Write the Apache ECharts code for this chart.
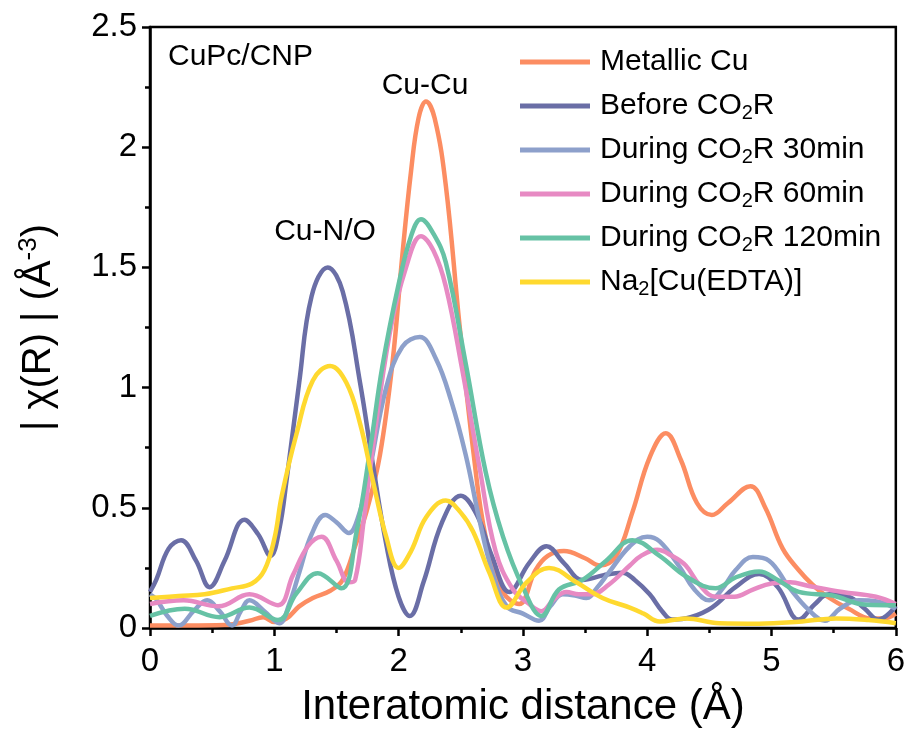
<!DOCTYPE html>
<html>
<head>
<meta charset="utf-8">
<script src="https://cdn.jsdelivr.net/npm/echarts@6/dist/echarts.min.js"></script>
<style>
  html, body { margin: 0; padding: 0; background: #fff; }
  #chart { width: 908px; height: 734px; }
</style>
</head>
<body>
<div id="chart"></div>
<script>
// series names (legend order)
const names = ['Metallic Cu', 'Before CO2R', 'During CO2R 30min', 'During CO2R 60min', 'During CO2R 120min', 'Na2[Cu(EDTA)]'];
const colors = ['#FC8D62', '#6A6EA6', '#8DA0CB', '#E78AC3', '#66C2A5', '#FFD92F'];

// [R (Å), |χ(R)|]
const metallicCu = [[0,0.01],[0.3,0.01],[0.6,0.012],[0.8,0.03],[0.91,0.045],[1.0,0.025],[1.1,0.04],[1.2,0.09],[1.31,0.125],[1.45,0.155],[1.55,0.2],[1.65,0.34],[1.75,0.5],[1.85,0.72],[1.95,1.1],[2.03,1.55],[2.1,1.9],[2.16,2.12],[2.22,2.19],[2.29,2.12],[2.38,1.84],[2.49,1.26],[2.6,0.74],[2.7,0.38],[2.84,0.15],[2.97,0.1],[3.1,0.24],[3.2,0.3],[3.33,0.32],[3.5,0.29],[3.62,0.26],[3.75,0.3],[3.88,0.48],[4.02,0.71],[4.15,0.81],[4.27,0.7],[4.4,0.52],[4.52,0.47],[4.65,0.52],[4.83,0.59],[4.95,0.5],[5.09,0.33],[5.22,0.24],[5.33,0.18],[5.45,0.13],[5.62,0.08],[5.8,0.04],[5.9,0.04],[6,0.06]];
const beforeCO2R = [[0,0.15],[0.05,0.2],[0.15,0.33],[0.25,0.365],[0.37,0.28],[0.48,0.17],[0.6,0.28],[0.76,0.45],[0.87,0.39],[0.97,0.3],[1.04,0.41],[1.1,0.62],[1.2,1.02],[1.3,1.38],[1.43,1.5],[1.55,1.4],[1.69,1.02],[1.79,0.69],[1.9,0.35],[2.0,0.13],[2.09,0.05],[2.2,0.19],[2.35,0.44],[2.5,0.55],[2.63,0.47],[2.75,0.3],[2.89,0.15],[3.05,0.27],[3.19,0.34],[3.33,0.27],[3.48,0.2],[3.65,0.22],[3.8,0.23],[3.9,0.2],[4.02,0.14],[4.12,0.07],[4.2,0.035],[4.35,0.045],[4.52,0.085],[4.71,0.17],[4.9,0.225],[5.05,0.17],[5.22,0.035],[5.35,0.1],[5.46,0.14],[5.62,0.13],[5.75,0.08],[5.86,0.035],[6,0.09]];
const during30 = [[0,0.14],[0.05,0.12],[0.14,0.05],[0.23,0.01],[0.35,0.07],[0.46,0.115],[0.56,0.07],[0.66,0.01],[0.73,0.07],[0.8,0.115],[0.92,0.07],[1.04,0.02],[1.12,0.1],[1.2,0.23],[1.3,0.39],[1.41,0.47],[1.5,0.44],[1.6,0.395],[1.68,0.47],[1.76,0.64],[1.9,1.0],[2.03,1.17],[2.17,1.21],[2.3,1.12],[2.42,0.95],[2.54,0.72],[2.65,0.45],[2.75,0.24],[2.87,0.09],[3.0,0.06],[3.13,0.03],[3.22,0.09],[3.32,0.14],[3.42,0.135],[3.51,0.125],[3.6,0.17],[3.69,0.23],[3.86,0.34],[4.0,0.38],[4.1,0.36],[4.26,0.255],[4.38,0.16],[4.5,0.115],[4.6,0.16],[4.71,0.24],[4.85,0.295],[4.98,0.28],[5.14,0.17],[5.3,0.075],[5.43,0.03],[5.55,0.08],[5.7,0.115],[5.85,0.11],[6,0.08]];
const during60 = [[0,0.1],[0.27,0.115],[0.55,0.09],[0.8,0.14],[1.03,0.095],[1.15,0.22],[1.27,0.34],[1.38,0.38],[1.5,0.28],[1.6,0.19],[1.65,0.2],[1.72,0.45],[1.79,0.74],[1.93,1.23],[2.06,1.5],[2.18,1.63],[2.28,1.57],[2.38,1.42],[2.51,1.08],[2.65,0.67],[2.78,0.32],[2.92,0.16],[3.05,0.1],[3.15,0.07],[3.25,0.12],[3.35,0.15],[3.45,0.14],[3.55,0.14],[3.69,0.18],[3.86,0.26],[3.95,0.3],[4.08,0.325],[4.2,0.3],[4.31,0.26],[4.42,0.18],[4.55,0.13],[4.7,0.13],[4.85,0.16],[5.0,0.185],[5.15,0.19],[5.3,0.175],[5.57,0.15],[5.84,0.13],[6,0.1]];
const during120 = [[0,0.05],[0.28,0.08],[0.56,0.045],[0.8,0.085],[1.03,0.033],[1.18,0.145],[1.35,0.228],[1.54,0.165],[1.66,0.395],[1.77,0.74],[1.87,1.09],[2.0,1.43],[2.1,1.63],[2.18,1.7],[2.28,1.64],[2.38,1.52],[2.54,1.1],[2.7,0.65],[2.84,0.38],[3.0,0.17],[3.15,0.05],[3.29,0.16],[3.48,0.2],[3.67,0.28],[3.88,0.365],[4.1,0.3],[4.31,0.215],[4.55,0.165],[4.71,0.21],[4.9,0.235],[5.05,0.2],[5.22,0.15],[5.49,0.135],[5.76,0.097],[6,0.095]];
const na2CuEDTA = [[0,0.125],[0.23,0.133],[0.44,0.14],[0.66,0.165],[0.82,0.185],[0.92,0.24],[1.0,0.37],[1.06,0.55],[1.18,0.81],[1.31,1.03],[1.45,1.09],[1.58,1.02],[1.69,0.85],[1.79,0.62],[1.9,0.38],[2.0,0.25],[2.1,0.32],[2.22,0.46],[2.38,0.53],[2.5,0.48],[2.6,0.4],[2.73,0.23],[2.87,0.085],[3.03,0.19],[3.21,0.25],[3.43,0.19],[3.64,0.125],[3.86,0.085],[3.97,0.06],[4.1,0.027],[4.31,0.04],[4.58,0.02],[4.9,0.018],[5.22,0.026],[5.52,0.04],[5.78,0.033],[6,0.02]];

const seriesData = [metallicCu, beforeCO2R, during30, during60, during120, na2CuEDTA];

const xTicks = { min: 0, max: 6, interval: 1 };
const yTicks = { min: 0, max: 2.5, interval: 0.5 };

const FONT = '"Liberation Sans", Arial, sans-serif';

const chart = echarts.init(document.getElementById('chart'));

const axisCommon = {
    axisLine: { show: true, onZero: false, lineStyle: { color: '#000', width: 2.5 } },
    axisTick: { show: true, inside: false, length: 8, lineStyle: { color: '#000', width: 2.5 } },
    minorTick: { show: true, splitNumber: 2, length: 5, lineStyle: { color: '#000', width: 2.5 } },
    splitLine: { show: false },
    minorSplitLine: { show: false }
};

chart.setOption({
    animation: false,
    grid: {
        left: 150, right: 11, top: 27, bottom: 106,
        show: true, borderColor: '#000', borderWidth: 2.5
    },
    legend: {
        orient: 'vertical',
        left: 515, top: 40,
        itemWidth: 70, itemHeight: 5, itemGap: 10,
        icon: 'rect',
        data: names,
        formatter: name => name.replace('CO2', 'CO{sub|2}').replace('Na2', 'Na{sub|2}'),
        textStyle: {
            fontFamily: FONT, fontSize: 30, color: '#000', lineHeight: 34,
            padding: [0, 0, 0, 5],
            rich: { sub: { fontFamily: FONT, fontSize: 20, lineHeight: 20, verticalAlign: 'bottom', color: '#000' } }
        }
    },
    xAxis: Object.assign({
        type: 'value',
        min: xTicks.min, max: xTicks.max, interval: xTicks.interval,
        name: 'Interatomic distance (Å)',
        nameLocation: 'middle', nameGap: 58,
        nameTextStyle: { fontFamily: FONT, fontSize: 42, color: '#000' },
        axisLabel: { fontFamily: FONT, fontSize: 33, color: '#000', margin: 17 }
    }, axisCommon),
    yAxis: Object.assign({
        type: 'value',
        min: yTicks.min, max: yTicks.max, interval: yTicks.interval,
        name: '{t|| χ(R) | (Å}{sup|-3}{t|)}',
        nameLocation: 'middle', nameGap: 88, nameRotate: 90,
        nameTextStyle: {
            fontFamily: FONT, fontSize: 40, color: '#000',
            rich: {
                t: { fontFamily: FONT, fontSize: 40, lineHeight: 46, color: '#000' },
                sup: { fontFamily: FONT, fontSize: 26, lineHeight: 26, verticalAlign: 'top', color: '#000' }
            }
        },
        axisLabel: { fontFamily: FONT, fontSize: 33, color: '#000', margin: 13 }
    }, axisCommon),
    graphic: [
        { type: 'text', x: 168, y: 57, style: { text: 'CuPc/CNP', font: '30px ' + FONT, fill: '#000', verticalAlign: 'middle' } },
        { type: 'text', x: 425, y: 86, style: { text: 'Cu-Cu', font: '30px ' + FONT, fill: '#000', align: 'center', verticalAlign: 'middle' } },
        { type: 'text', x: 325, y: 232, style: { text: 'Cu-N/O', font: '30px ' + FONT, fill: '#000', align: 'center', verticalAlign: 'middle' } }
    ],
    series: names.map((n, i) => ({
        name: n,
        type: 'line',
        data: seriesData[i],
        smooth: 0.4,
        showSymbol: false,
        symbol: 'none',
        color: colors[i],
        lineStyle: { color: colors[i], width: 4.5 },
        z: 2 + i
    }))
});
</script>
</body>
</html>
